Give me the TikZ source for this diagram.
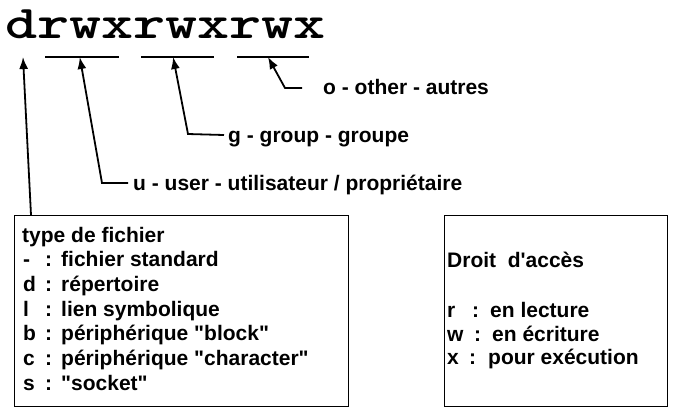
\documentclass[tikz,border=0pt]{standalone}
\usepackage{fontspec}
\setmainfont{Liberation Sans}[Ligatures=TeXOff]
\usetikzlibrary{arrows.meta}

\tikzset{
  txt/.style={anchor=base west,inner sep=0pt,font=\fontsize{21}{24}\selectfont\bfseries},
  pointer/.style={line width=1.8pt,-{Latex[length=12pt,width=9pt]}},
  bar/.style={line width=2.6pt},
  legend/.style={draw,line width=1pt}
}

\begin{document}
\begin{tikzpicture}
        [x=1pt,y=-1pt]
        \useasboundingbox (0,0) rectangle (676,416);

        \node[anchor=base west,inner sep=0pt,xscale=1.3,font=\fontsize{47}{47}\selectfont\ttfamily\bfseries] (perm) at (5,38) {drwxrwxrwx};

        % traits sous u, g, o
        \draw[bar] (45,57) -- (119,57) coordinate[pos=0.47] (utip);
        \draw[bar] (141,57) -- (214,57) coordinate[pos=0.44] (gtip);
        \draw[bar] (237,57) -- (309,57) coordinate[pos=0.43] (otip);
        \coordinate (dtip) at (23,57);

        % legendes
        \node[txt] (olabel) at (323,94) {o - other - autres};
        \node[txt] (glabel) at (228,142) {g - group - groupe};
        \node[txt] (ulabel) at (133,190) {u - user - utilisateur / propriétaire};

        \coordinate (obend) at (285,88);
        \coordinate (gbend) at (188,134);
        \coordinate (ubend) at (102,183);
        \draw[pointer] ([xshift=-21pt,yshift=6pt]olabel.base west) -- (obend) -- (otip);
        \draw[pointer] ([xshift=-4pt,yshift=7pt]glabel.base west) -- (gbend) -- (gtip);
        \draw[pointer] ([xshift=-5pt,yshift=7pt]ulabel.base west) -- (ubend) -- (utip);

        % boites
        \node[legend,minimum width=334pt,minimum height=191pt,anchor=north west] (typebox) at (14,215) {};
        \node[legend,minimum width=223pt,minimum height=191pt,anchor=north west] (accbox) at (444,215) {};
        \draw[pointer] (typebox.north west) ++(17,0) coordinate (dfoot) -- (dtip);

        \node[txt] (thead) at (22,242) {type de fichier};
        \foreach \k/\t [count=\i] in {-/fichier standard,d/répertoire,l/lien symbolique,
            b/périphérique "block",c/périphérique "character",s/"socket"}
        {
          \node[txt] (tk\i) at (23,242+24.7*\i) {\k};
          \node[txt] (tc\i) at (45,242+24.7*\i) {:};
          \node[txt] (tt\i) at (61,242+24.7*\i) {\t};
        }

        \node[txt] (ahead) at (447,267) {Droit\ \ d'accès};
        \foreach \k/\t/\c/\p [count=\i] in {r/en lecture/472/490,w/en écriture/474/492,x/pour exécution/469/488}
        {
          \node[txt] (ak\i) at (447,294+23.5*\i) {\k};
          \node[txt] (ac\i) at (\c,294+23.5*\i) {:};
          \node[txt] (at\i) at (\p,294+23.5*\i) {\t};
        }
      \end{tikzpicture}
\end{document}
